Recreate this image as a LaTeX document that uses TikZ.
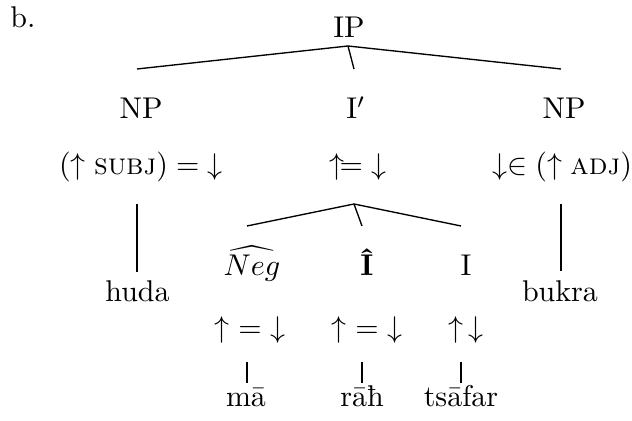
\documentclass[tikz,border=0pt]{standalone}
\usepackage{fontspec}

\begin{document}
\begin{tikzpicture}[
    x=0.3333pt,
    y=-0.3333pt,
    lbl/.style={anchor=base,inner sep=0pt},
    branch/.style={line width=0.45pt},
    every node/.style={font=\normalsize}
]
  \useasboundingbox (0,0) rectangle (632,421);

  \node[lbl] (tag) at (23,28) {b.};

  % upper tree
  \node[lbl] (ip) at (349,38) {IP};
  \coordinate (ipfork) at (348,46);
  \coordinate (subjend) at (137,69);
  \coordinate (ibarend) at (354,69);
  \coordinate (adjend) at (561,69);
  \draw[branch] (ipfork) -- (subjend);
  \draw[branch] (ipfork) -- (ibarend);
  \draw[branch] (ipfork) -- (adjend);

  \node[lbl] (subjnp) at (141,119) {NP};
  \node[lbl] (ibar) at (356,119) {I$'$};
  \node[lbl] (adjnp) at (564,119) {NP};

  \node[lbl] (subjeq) at (141,175) {$(\uparrow\textsc{subj}) =\;\downarrow$};
  \node[lbl] (ibareq) at (358,175) {$\uparrow\!=\;\downarrow$};
  \node[lbl] (adjeq) at (562,175) {$\downarrow\in(\uparrow\textsc{adj})$};

  \node[lbl] (huda) at (137.5,302) {huda};
  \node[lbl] (bukra) at (560,302) {bukra};
  \coordinate (hudatop) at (137,272);
  \coordinate (bukratop) at (561,271);
  \draw[branch] (137,204) coordinate (subjfoot) -- (hudatop);
  \draw[branch] (561,204) coordinate (adjfoot) -- (bukratop);

  % lower tree under I'
  \coordinate (ibarfork) at (354,204);
  \coordinate (negend) at (247,226);
  \coordinate (ihatend) at (362,226);
  \coordinate (inflend) at (461,226);
  \draw[branch] (ibarfork) -- (negend);
  \draw[branch] (ibarfork) -- (ihatend);
  \draw[branch] (ibarfork) -- (inflend);

  \node[lbl] (neg) at (252,276) {$\widehat{Neg}$};
  \node[lbl] (ihat) at (367,276) {\textbf{Î}};
  \node[lbl] (infl) at (466,276) {I};

  \node[lbl] (negeq) at (250,338) {$\uparrow\;=\;\downarrow$};
  \node[lbl] (ihateq) at (367,338) {$\uparrow\;=\;\downarrow$};
  \node[lbl] (infleq) at (466,338) {$\uparrow\,\downarrow$};

  \node[lbl] (ma) at (246,407) {mā};
  \node[lbl] (rah) at (362,407) {rāħ};
  \node[lbl] (tsafar) at (461,407) {tsāfar};
  \draw[branch] (247,362) coordinate (negfoot) -- (247,383) coordinate (matop);
  \draw[branch] (362,362) coordinate (ihatfoot) -- (362,383) coordinate (rahtop);
  \draw[branch] (461,362) coordinate (inflfoot) -- (461,383) coordinate (tsafartop);
\end{tikzpicture}
\end{document}
